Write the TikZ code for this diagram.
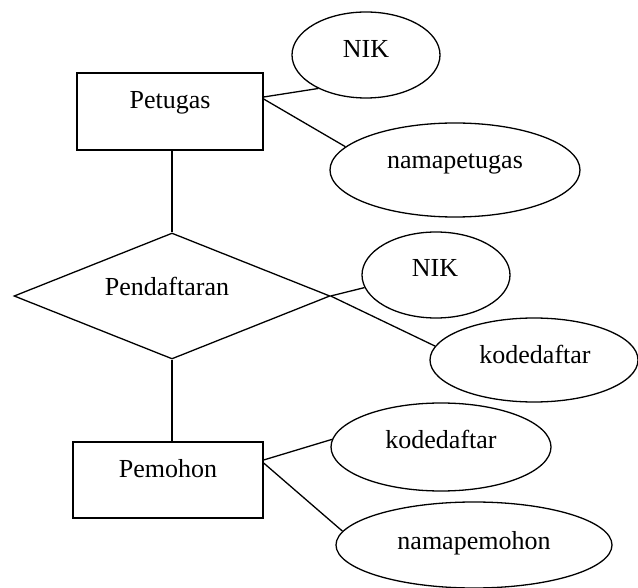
\documentclass[tikz,border=0pt]{standalone}
\usepackage{fontspec}
\setmainfont{Liberation Serif}
\usetikzlibrary{shapes.geometric}
\begin{document}
\begin{tikzpicture}[x=1pt,y=-1pt,
  every path/.style={line width=1.3pt},
  entity/.style={draw, rectangle, inner sep=0pt},
  attr/.style={draw, ellipse, inner sep=0pt},
  rel/.style={draw, diamond, inner sep=0pt},
  lbl/.style={anchor=base, inner sep=0pt, font=\fontsize{26}{30}\selectfont}]
\useasboundingbox (0,0) rectangle (638,588);

% entities
\node[entity, minimum width=186pt, minimum height=77pt] (pet) at (170,111.5) {};
\node[entity, minimum width=190pt, minimum height=76pt] (pem) at (168,480) {};

% relationship
\node[rel, minimum width=316pt, minimum height=126pt] (dia) at (172,296) {};

% attributes
\node[attr, minimum width=148pt, minimum height=86pt] (nik1) at (366,55) {};
\node[attr, minimum width=250pt, minimum height=94pt] (nmpet) at (455,170) {};
\node[attr, minimum width=148pt, minimum height=86pt] (nik2) at (436,275) {};
\node[attr, minimum width=208pt, minimum height=84pt] (kd1) at (534,360) {};
\node[attr, minimum width=220pt, minimum height=88pt] (kd2) at (441,447) {};
\node[attr, minimum width=276pt, minimum height=86pt] (nmpem) at (474,545) {};

% labels
\node[lbl] (petT) at (170,109) {Petugas};
\node[lbl] (pemT) at (168,477) {Pemohon};
\node[lbl] (diaT) at (167,296) {Pendaftaran};
\node[lbl] (nik1T) at (366,58) {NIK};
\node[lbl] (nmpetT) at (455,169) {namapetugas};
\node[lbl] (nik2T) at (435,277) {NIK};
\node[lbl] (kd1T) at (535,363) {kodedaftar};
\node[lbl] (kd2T) at (441,449) {kodedaftar};
\node[lbl] (nmpemT) at (474,549) {namapemohon};

% connectors
\draw ([yshift=14.5pt]pet.east) -- (nik1.215.6);
\draw ([yshift=12.5pt]pet.east) -- (nmpet.168.9);
\draw (dia.north |- pet.south) -- (dia.north);
\draw (dia.east) -- (nik2.190.4);
\draw (dia.east) -- (kd1.172.1);
\draw (dia.south) -- (dia.south |- pem.north);
\draw ([yshift=20pt]pem.east) -- (kd2.176.8);
\draw ([yshift=17pt]pem.east) -- (nmpem.174.3);
\end{tikzpicture}
\end{document}
